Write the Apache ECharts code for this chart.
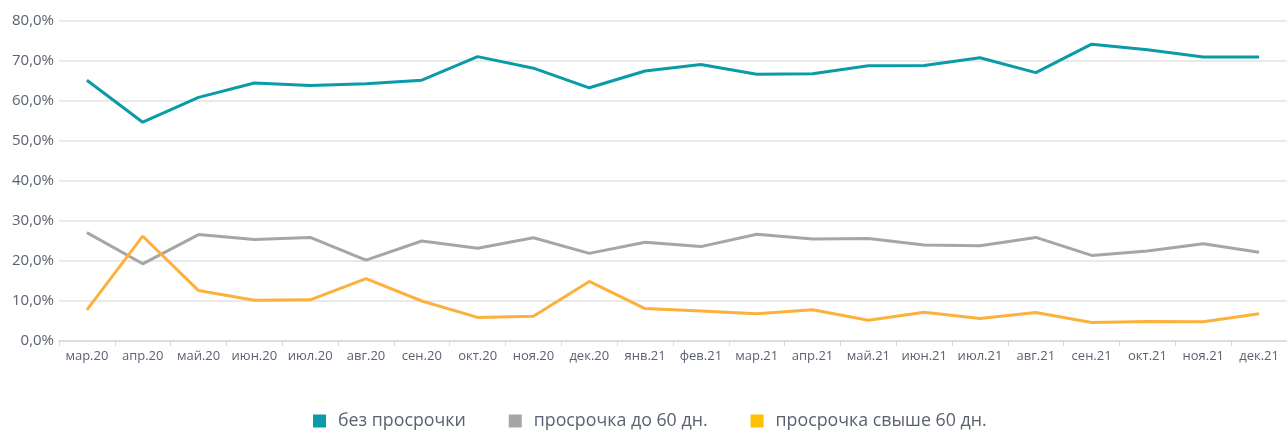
<!DOCTYPE html>
<html>
<head>
<meta charset="utf-8">
<script src="https://cdn.jsdelivr.net/npm/echarts@6/dist/echarts.min.js"></script>
<style>
  html, body { margin: 0; padding: 0; background: #fff; }
  #main { width: 1287px; height: 430px; }
</style>
</head>
<body>
<div id="main"></div>
<script>
// категории (месяцы)
var months = ['мар.20','апр.20','май.20','июн.20','июл.20','авг.20','сен.20','окт.20','ноя.20','дек.20',
  'янв.21','фев.21','мар.21','апр.21','май.21','июн.21','июл.21','авг.21','сен.21','окт.21','ноя.21','дек.21'];

var names = ['без просрочки', 'просрочка до 60 дн.', 'просрочка свыше 60 дн.'];

// значения, %
var noDelay = [65.2,54.7,60.9,64.5,63.9,64.3,65.2,71.1,68.2,63.3,67.5,69.1,66.7,66.8,68.8,68.9,70.8,67.1,74.2,72.8,71.0,71.0];
var delayTo60 = [27.1,19.3,26.6,25.4,25.9,20.2,25.0,23.2,25.8,21.9,24.7,23.6,26.7,25.5,25.6,24.0,23.8,25.9,21.4,22.5,24.3,22.2];
var delayOver60 = [7.8,26.2,12.6,10.2,10.3,15.6,10.0,5.9,6.2,14.9,8.1,7.5,6.8,7.8,5.2,7.2,5.6,7.1,4.6,4.9,4.8,6.8];

var lineColors = ['#0a9ba8', '#a6a6a6', '#fbb13c'];
var iconColors = ['#0a9ba8', '#a6a6a6', '#ffc000'];

var myChart = echarts.init(document.getElementById('main'));

var fmt = function (v) { return v.toFixed(1).replace('.', ',') + '%'; };

var series = [noDelay, delayTo60, delayOver60].map(function (d, i) {
  return {
    name: names[i],
    type: 'line',
    data: d,
    symbol: 'none',
    lineStyle: { width: 3, color: lineColors[i] },
    itemStyle: { color: iconColors[i] }
  };
});

var option = {
  animation: false,
  textStyle: { fontFamily: '"Open Sans", sans-serif' },
  grid: { left: 59, right: -7, top: 21, bottom: 89 },
  legend: {
    bottom: -5,
    left: 308,
    icon: 'rect',
    itemWidth: 13,
    itemHeight: 13,
    itemGap: 43,
    textStyle: { fontSize: 17.8, color: '#5a6272', fontFamily: '"Open Sans", sans-serif', padding: [0, 0, 0, 7] },
    data: names.map(function (n, i) { return { name: n, itemStyle: { color: iconColors[i] } }; })
  },
  xAxis: {
    type: 'category',
    data: months,
    boundaryGap: true,
    axisLine: { lineStyle: { color: '#d9d9d9', width: 1.5 } },
    axisTick: { show: true, length: 5, lineStyle: { color: '#d9d9d9' } },
    axisLabel: { color: '#5a6272', fontSize: 13, margin: 9, interval: 0 }
  },
  yAxis: {
    type: 'value',
    min: 0,
    max: 80,
    interval: 10,
    axisLine: { show: false },
    axisTick: { show: false },
    axisLabel: { color: '#5a6272', fontSize: 15, margin: 5, formatter: fmt },
    splitLine: { lineStyle: { color: '#e2e2e2', width: 1.5 } }
  },
  series: series
};

myChart.setOption(option);
</script>
</body>
</html>
